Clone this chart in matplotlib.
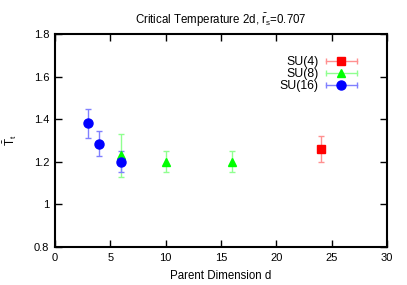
import matplotlib
matplotlib.use('Agg')
import matplotlib.pyplot as plt
from matplotlib.lines import Line2D

plt.rcParams['font.family'] = ['Liberation Sans', 'DejaVu Sans']
plt.rcParams['mathtext.fontset'] = 'custom'
plt.rcParams['mathtext.rm'] = 'Liberation Sans'
plt.rcParams['mathtext.it'] = 'Liberation Sans'

# data
su4_d = [24]
su4_t = [1.26]
su4_err = [0.06]

su8_d = [6, 10, 16]
su8_t = [1.23, 1.20, 1.20]
su8_err = [0.10, 0.05, 0.05]

su16_d = [3, 4, 6]
su16_t = [1.38, 1.285, 1.20]
su16_err = [0.07, 0.06, 0.05]

x_ticks = [0, 5, 10, 15, 20, 25, 30]
y_ticks = [0.8, 1.0, 1.2, 1.4, 1.6, 1.8]
y_tick_labels = ['0.8', '1', '1.2', '1.4', '1.6', '1.8']


class ErrKey:
    # gnuplot-like key: horizontal error bar with caps, marker in the middle
    def __init__(self, col, ecol, marker, ms):
        self.col, self.ecol, self.marker, self.ms = col, ecol, marker, ms

    def legend_artist(self, legend, orig_handle, fontsize, handlebox):
        x0, y0 = handlebox.xdescent, handlebox.ydescent
        w, h = handlebox.width, handlebox.height
        yc = y0 + h / 2
        tr = handlebox.get_transform()
        bar = Line2D([x0, x0 + w], [yc, yc], color=self.ecol, lw=1, transform=tr)
        caps = Line2D([x0, x0 + w], [yc, yc], ls='none', marker='|',
                      markersize=4, color=self.ecol, transform=tr)
        mk = Line2D([x0 + w / 2], [yc], ls='none', marker=self.marker,
                    markersize=self.ms, color=self.col, transform=tr)
        for a in (bar, caps, mk):
            handlebox.add_artist(a)
        return mk


fig = plt.figure(figsize=(4.07, 2.85), dpi=100)
ax = fig.add_axes([0.135, 0.133, 0.816, 0.748])

series = [
    (su4_d, su4_t, su4_err, 'SU(4)', '#ff0000', '#ff9090', 's', 6),
    (su8_d, su8_t, su8_err, 'SU(8)', '#00ff00', '#90ff90', '^', 6),
    (su16_d, su16_t, su16_err, 'SU(16)', '#0000ff', '#8080ff', 'o', 6.5),
]
handles, labels, hmap = [], [], {}
for d, t, err, label, col, ecol, marker, ms in series:
    eb = ax.errorbar(d, t, yerr=err, fmt=marker, color=col, ecolor=ecol,
                     markersize=ms, elinewidth=1, capsize=2, capthick=1)
    handles.append(eb)
    labels.append(label)
    hmap[eb] = ErrKey(col, ecol, marker, ms)

ax.set_xlim(0, 30)
ax.set_ylim(0.8, 1.8)
ax.set_xticks(x_ticks)
ax.set_yticks(y_ticks)
ax.set_yticklabels(y_tick_labels)
ax.tick_params(direction='in', top=True, right=True, length=5, width=1,
               labelsize=8, pad=4)
for s in ax.spines.values():
    s.set_linewidth(1.5)

ax.set_title(r'Critical Temperature 2d, $\bar{\rm r}_{\rm s}$=0.707', fontsize=8.3, pad=7)
ax.set_xlabel('Parent Dimension d', fontsize=8.3, labelpad=5)
ax.set_ylabel(r'$\bar{\rm T}_{\rm t}$', fontsize=8.5, labelpad=11)

ax.legend(handles, labels, handler_map=hmap, loc='upper right',
          bbox_to_anchor=(0.927, 0.925), frameon=False, markerfirst=False,
          fontsize=8.8, handlelength=2.5, labelspacing=0.0, borderpad=0,
          handletextpad=0.6)

fig.savefig('out.png', dpi=100)
